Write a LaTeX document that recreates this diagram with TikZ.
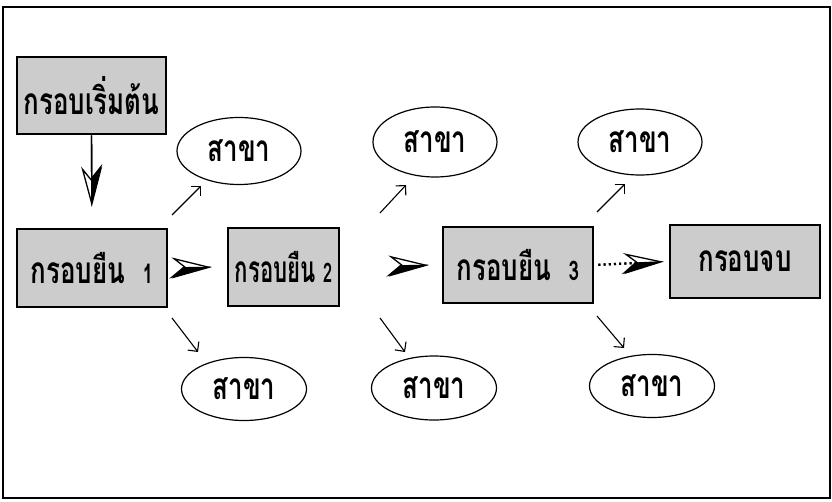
\documentclass[tikz,border=0pt]{standalone}
\usepackage{fontspec}
\newfontfamily\thai[Script=Thai,FakeStretch=0.7]{Loma}
\newfontfamily\thainarrow[Script=Thai,FakeStretch=0.6]{Loma}
\usetikzlibrary{arrows.meta,shapes.geometric}
\begin{document}
\begin{tikzpicture}[x=1pt,y=1pt,
  txt/.style={font=\thai\bfseries\fontsize{37}{37}\selectfont},
  frame/.style={draw=black, line width=1.3pt},
  fbox/.style={draw=black, line width=2.8pt, fill=black!20, inner sep=0pt, txt},
  oval/.style={ellipse, draw=black, line width=1.2pt, inner sep=0pt, txt},
  branch/.style={line width=1.1pt, -{Straight Barb[length=7pt,width=14pt,line width=1.1pt]}},
  shaftW/.style={draw=white, line width=1pt},
  fulltip/.style={-{Stealth[length=40pt,width=21pt,inset=13pt,color=black,fill=white,line width=1.3pt]}},
  halftipR/.style={-{Stealth[harpoon,swap,length=40pt,width=21pt,inset=13pt,color=black,fill=black,line width=1.3pt]}},
  halftipL/.style={-{Stealth[harpoon,length=40pt,width=21pt,inset=13pt,color=black,fill=black,line width=1.3pt]}},
  dotline/.style={draw=black, line width=2.2pt, dash pattern=on 2pt off 3.2pt},
  downline/.style={draw=black, line width=1.4pt}
]
\useasboundingbox (0,0) rectangle (832,501);
\draw[frame] (3,3) rectangle (830,494);

\newcommand\dg[1]{{\fontsize{27}{27}\selectfont #1}}

\node[fbox, minimum width=149pt, minimum height=77pt] (start) at (91.5,405.5) {กรอบเริ่มต้น};
\node[fbox, minimum width=150pt, minimum height=78pt] (b1) at (92,233) {กรอบยืน\ \ \dg{1}};
\node[fbox, minimum width=111pt, minimum height=78pt, font=\thainarrow\bfseries\fontsize{37}{37}\selectfont] (b2) at (283.5,234) {กรอบยืน\ \dg{2}};
\node[fbox, minimum width=150pt, minimum height=76pt] (b3) at (518,236) {กรอบยืน\ \ \dg{3}};
\node[fbox, minimum width=150pt, minimum height=73pt] (end) at (745,239.5) {กรอบจบ};

\node[oval, minimum width=124pt, minimum height=67pt] (e1) at (239,350) {สาขา};
\node[oval, minimum width=124pt, minimum height=70pt] (e2) at (435,359) {สาขา};
\node[oval, minimum width=124pt, minimum height=66pt] (e3) at (640,359) {สาขา};
\node[oval, minimum width=125pt, minimum height=63pt] (e4) at (244,112) {สาขา};
\node[oval, minimum width=125pt, minimum height=64pt] (e5) at (434,113) {สาขา};
\node[oval, minimum width=125pt, minimum height=63pt] (e6) at (652,115) {สาขา};

\coordinate (t1) at (172,286); \coordinate (h1) at (201,315);
\coordinate (t2) at (380,288); \coordinate (h2) at (406,316);
\coordinate (t3) at (597,289); \coordinate (h3) at (625,317);
\coordinate (t4) at (172,183); \coordinate (h4) at (198,149);
\coordinate (t5) at (380,183); \coordinate (h5) at (405,149);
\coordinate (t6) at (597,185); \coordinate (h6) at (624,153);

% start -> box 1
\draw[downline, fulltip, shorten >=21pt] (start.south) -- (b1.north);
\draw[downline, halftipL, shorten >=21pt] (start.south) -- (b1.north);
% box 1 -> box 2
\draw[shaftW, fulltip, shorten <=4pt, shorten >=15pt] (b1.east) -- (b2.west);
\draw[shaftW, halftipR, shorten <=4pt, shorten >=15pt] (b1.east) -- (b2.west);
% box 2 -> box 3
\draw[shaftW, fulltip, shorten <=8pt, shorten >=13pt] (b2.east) -- (b3.west);
\draw[shaftW, halftipR, shorten <=8pt, shorten >=13pt] (b2.east) -- (b3.west);
% box 3 -> end (dotted)
\draw[dotline, fulltip, shorten <=4pt, shorten >=5pt] (b3.east) -- (end.west);
\draw[dotline, halftipR, shorten <=4pt, shorten >=5pt] (b3.east) -- (end.west);

\draw[branch] (t1) -- (h1);
\draw[branch] (t2) -- (h2);
\draw[branch] (t3) -- (h3);
\draw[branch] (t4) -- (h4);
\draw[branch] (t5) -- (h5);
\draw[branch] (t6) -- (h6);
\end{tikzpicture}
\end{document}
